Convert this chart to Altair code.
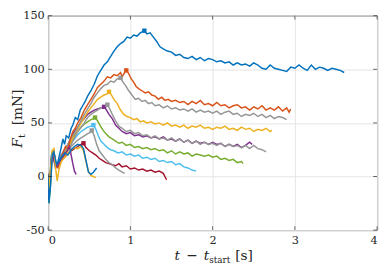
import altair as alt
import pandas as pd

# ---- data: (t, F) pairs ----
blue_long = [(0,2),(0.01,-22),(0.02,-5),(0.04,20),(0.06,24),(0.08,12),(0.1,10),(0.12,14),(0.15,24),(0.18,35),(0.2,30),(0.22,38),(0.25,36),(0.28,45),(0.3,48),(0.33,55),(0.36,53),(0.39,62),(0.42,66),(0.45,70),(0.48,75),(0.52,80),(0.56,86),(0.6,94),(0.64,99),(0.68,104),(0.72,107),(0.76,112),(0.8,117),(0.84,121),(0.88,124),(0.92,126),(0.96,130),(1.0,129),(1.04,132),(1.08,131),(1.12,134),(1.17,136),(1.2,133),(1.24,134),(1.28,130),(1.32,126),(1.36,121),(1.4,119),(1.45,117),(1.5,116),(1.55,113),(1.6,114),(1.65,111),(1.7,110),(1.75,112),(1.8,109),(1.85,111),(1.9,108),(1.95,110),(2.0,109),(2.05,107),(2.1,108),(2.15,106),(2.2,107),(2.25,104),(2.3,106),(2.35,104),(2.4,105),(2.45,103),(2.5,106),(2.55,104),(2.6,101),(2.65,100),(2.7,104),(2.75,101),(2.8,100),(2.85,99),(2.9,98),(2.95,102),(3.0,101),(3.05,104),(3.1,101),(3.15,99),(3.2,104),(3.25,100),(3.3,102),(3.35,101),(3.4,99),(3.45,101),(3.5,100),(3.55,99),(3.6,97)]
orange = [(0,3),(0.01,-18),(0.03,2),(0.05,22),(0.07,23),(0.09,12),(0.12,8),(0.15,16),(0.18,22),(0.21,28),(0.24,26),(0.27,35),(0.3,42),(0.33,45),(0.36,50),(0.4,55),(0.44,62),(0.48,67),(0.52,72),(0.56,77),(0.6,83),(0.64,86),(0.68,89),(0.72,93),(0.76,92),(0.8,95),(0.84,94),(0.88,97),(0.9,93),(0.93,97),(0.95,99),(0.98,96),(1.01,91),(1.04,88),(1.07,84),(1.1,82),(1.14,80),(1.18,78),(1.22,79),(1.26,76),(1.3,75),(1.34,72),(1.38,74),(1.42,71),(1.46,72),(1.5,70),(1.55,71),(1.6,69),(1.65,70),(1.7,67),(1.75,70),(1.8,68),(1.85,71),(1.9,67),(1.95,68),(2.0,66),(2.05,69),(2.1,66),(2.15,67),(2.2,64),(2.25,66),(2.3,67),(2.35,64),(2.4,65),(2.45,62),(2.5,65),(2.55,63),(2.6,66),(2.65,62),(2.7,64),(2.75,62),(2.8,65),(2.85,61),(2.9,64),(2.93,60),(2.95,63)]
grey_high = [(0,0),(0.01,-20),(0.03,0),(0.05,21),(0.07,22),(0.1,10),(0.13,12),(0.16,20),(0.2,24),(0.24,30),(0.28,36),(0.32,40),(0.36,46),(0.4,52),(0.44,58),(0.48,63),(0.52,68),(0.56,74),(0.6,78),(0.64,82),(0.68,85),(0.72,86),(0.76,89),(0.8,88),(0.84,91),(0.88,92),(0.91,88),(0.94,85),(0.98,80),(1.02,76),(1.06,72),(1.1,73),(1.14,70),(1.18,71),(1.22,68),(1.26,69),(1.3,66),(1.35,67),(1.4,64),(1.45,66),(1.5,63),(1.55,64),(1.6,62),(1.65,63),(1.7,61),(1.75,63),(1.8,60),(1.85,62),(1.9,60),(1.95,61),(2.0,59),(2.05,61),(2.1,58),(2.15,60),(2.2,61),(2.25,58),(2.3,59),(2.35,56),(2.4,58),(2.45,57),(2.5,59),(2.55,56),(2.6,58),(2.65,55),(2.7,57),(2.75,54),(2.8,56),(2.85,55),(2.9,53)]
yellow = [(0,2),(0.01,-15),(0.03,5),(0.05,24),(0.07,25),(0.09,10),(0.12,9),(0.16,14),(0.2,20),(0.24,26),(0.28,33),(0.32,40),(0.36,44),(0.4,50),(0.44,55),(0.48,60),(0.52,64),(0.56,68),(0.6,72),(0.64,74),(0.68,76),(0.72,77),(0.74,79),(0.77,76),(0.8,72),(0.84,68),(0.88,62),(0.92,58),(0.96,56),(1.0,55),(1.04,53),(1.08,54),(1.12,51),(1.16,52),(1.2,50),(1.25,51),(1.3,49),(1.35,50),(1.4,48),(1.45,50),(1.5,47),(1.55,48),(1.6,46),(1.65,48),(1.7,45),(1.75,47),(1.8,46),(1.85,48),(1.9,45),(1.95,46),(2.0,44),(2.05,46),(2.1,45),(2.15,47),(2.2,44),(2.25,45),(2.3,43),(2.35,46),(2.4,44),(2.45,45),(2.5,42),(2.55,44),(2.6,43),(2.65,45),(2.7,42),(2.72,43)]
grey_mid = [(0,0),(0.01,-18),(0.04,18),(0.06,22),(0.09,12),(0.12,10),(0.16,18),(0.2,22),(0.24,26),(0.28,30),(0.32,36),(0.36,42),(0.4,46),(0.44,50),(0.48,55),(0.52,58),(0.56,60),(0.6,62),(0.64,64),(0.68,65),(0.72,67),(0.75,63),(0.78,58),(0.82,52),(0.86,47),(0.9,45),(0.95,42),(1.0,43),(1.05,40),(1.1,41),(1.15,38),(1.2,39),(1.25,36),(1.3,38),(1.35,35),(1.4,36),(1.45,34),(1.5,36),(1.55,33),(1.6,35),(1.65,32),(1.7,34),(1.75,31),(1.8,33),(1.85,30),(1.9,32),(1.95,30),(2.0,31),(2.05,29),(2.1,31),(2.15,28),(2.2,30),(2.25,28),(2.3,29),(2.35,27),(2.4,29),(2.45,26),(2.5,29),(2.55,26),(2.6,25),(2.65,23)]
purple = [(0,1),(0.01,-20),(0.04,15),(0.06,20),(0.09,10),(0.12,12),(0.16,20),(0.2,25),(0.24,30),(0.28,36),(0.32,42),(0.36,46),(0.4,51),(0.44,54),(0.48,58),(0.52,60),(0.56,62),(0.6,63),(0.64,64),(0.68,65),(0.71,62),(0.74,58),(0.78,54),(0.82,48),(0.86,45),(0.9,42),(0.95,40),(1.0,41),(1.05,38),(1.1,39),(1.15,37),(1.2,38),(1.25,36),(1.3,37),(1.35,35),(1.4,37),(1.45,34),(1.5,35),(1.55,33),(1.6,35),(1.65,32),(1.7,34),(1.75,31),(1.8,33),(1.85,31),(1.9,32),(1.95,30),(2.0,32),(2.05,30),(2.1,31),(2.15,28),(2.2,30),(2.25,28),(2.3,30),(2.35,27),(2.4,29),(2.45,32),(2.48,30)]
green = [(0,0),(0.01,-25),(0.03,-5),(0.05,20),(0.07,22),(0.1,10),(0.13,13),(0.16,18),(0.2,22),(0.24,27),(0.28,32),(0.32,38),(0.36,42),(0.4,46),(0.44,49),(0.48,51),(0.52,53),(0.55,54),(0.57,55),(0.6,52),(0.63,48),(0.66,44),(0.7,40),(0.74,37),(0.78,35),(0.82,33),(0.86,31),(0.9,32),(0.95,29),(1.0,30),(1.05,27),(1.1,28),(1.15,26),(1.2,27),(1.25,25),(1.3,26),(1.35,24),(1.4,25),(1.45,22),(1.5,24),(1.55,21),(1.6,23),(1.65,21),(1.7,22),(1.75,19),(1.8,21),(1.85,20),(1.9,19),(1.95,20),(2.0,18),(2.05,19),(2.1,16),(2.15,17),(2.2,15),(2.25,16),(2.3,13),(2.35,14),(2.37,12)]
light_blue = [(0,0),(0.01,-20),(0.04,15),(0.06,21),(0.09,11),(0.12,12),(0.16,18),(0.2,22),(0.24,26),(0.28,31),(0.32,35),(0.36,39),(0.4,42),(0.44,44),(0.48,46),(0.52,47),(0.55,48),(0.58,44),(0.61,38),(0.64,33),(0.68,30),(0.72,27),(0.76,25),(0.8,24),(0.85,22),(0.9,23),(0.95,20),(1.0,21),(1.05,19),(1.1,20),(1.15,17),(1.2,18),(1.25,16),(1.3,17),(1.35,14),(1.4,15),(1.45,13),(1.5,14),(1.55,11),(1.6,12),(1.65,9),(1.7,8),(1.75,6),(1.8,5)]
grey_low = [(0,0),(0.01,-18),(0.04,16),(0.06,21),(0.09,11),(0.12,12),(0.16,17),(0.2,20),(0.24,24),(0.28,28),(0.32,31),(0.36,34),(0.4,36),(0.44,38),(0.48,40),(0.51,41),(0.53,43),(0.56,38),(0.59,30),(0.62,24),(0.66,20),(0.7,16),(0.74,13),(0.78,11),(0.82,8),(0.86,6),(0.9,4),(0.93,3)]
dark_red = [(0,0),(0.01,-15),(0.04,14),(0.06,19),(0.09,10),(0.12,11),(0.16,15),(0.2,18),(0.24,21),(0.28,24),(0.32,26),(0.36,28),(0.4,30),(0.43,31),(0.46,27),(0.5,24),(0.54,22),(0.58,20),(0.62,17),(0.66,15),(0.7,13),(0.74,12),(0.78,11),(0.82,10),(0.86,12),(0.9,9),(0.95,10),(1.0,7),(1.05,8),(1.1,6),(1.15,7),(1.2,5),(1.25,6),(1.3,4),(1.35,5),(1.4,3),(1.44,-3)]
purple_short = [(0,0),(0.01,-22),(0.04,16),(0.06,20),(0.09,8),(0.12,11),(0.16,16),(0.2,20),(0.23,24),(0.26,28),(0.28,20),(0.3,12),(0.32,5),(0.34,2)]
yellow_short = [(0,0),(0.01,-12),(0.03,8),(0.05,24),(0.07,26),(0.09,8),(0.11,-4),(0.13,6),(0.16,14),(0.2,18),(0.24,22),(0.28,25),(0.32,27),(0.36,26),(0.4,28),(0.43,24),(0.46,14),(0.49,5),(0.52,1),(0.55,0),(0.58,-1)]
blue_short = [(0,0),(0.01,-25),(0.03,-8),(0.05,20),(0.07,23),(0.1,12),(0.13,14),(0.16,18),(0.2,22),(0.24,20),(0.28,25),(0.32,28),(0.36,30),(0.4,29),(0.43,26),(0.46,15),(0.49,4),(0.52,2),(0.55,4),(0.59,8)]

series_names = ["dark_red", "grey_low", "light_blue", "green", "purple", "grey_mid",
                "yellow", "grey_high", "orange", "blue_long", "purple_short",
                "yellow_short", "blue_short"]
series_data = [dark_red, grey_low, light_blue, green, purple, grey_mid,
               yellow, grey_high, orange, blue_long, purple_short,
               yellow_short, blue_short]
series_colors = ["#A2142F", "#969696", "#4DBEEE", "#77AC30", "#7E2F8E", "#969696",
                 "#EDB120", "#969696", "#D95319", "#0072BD", "#7E2F8E",
                 "#EDB120", "#0072BD"]

x_ticks = [0, 1, 2, 3, 4]
y_ticks = [-50, 0, 50, 100, 150]

rows = []
for name, pts in zip(series_names, series_data):
    for i, (t, f) in enumerate(pts):
        rows.append({"series": name, "i": i, "t": t, "F": f})
df = pd.DataFrame(rows)

peaks = []
for name, pts in zip(series_names, series_data):
    if name.endswith("_short"):
        continue
    t, f = max(pts, key=lambda p: p[1])
    peaks.append({"series": name, "t": t, "F": f})
peak_df = pd.DataFrame(peaks)

W, H = 336, 219
FONT = "DejaVu Serif"
INK = "#262626"

color_scale = alt.Scale(domain=series_names, range=series_colors)
xs = alt.Scale(domain=[0, 4], nice=False)
ys = alt.Scale(domain=[-50, 150], nice=False)

lines = alt.Chart(df).mark_line(strokeWidth=1.5, clip=True).encode(
    x=alt.X("t:Q", scale=xs,
            axis=alt.Axis(values=x_ticks, title=None, grid=True, labelPadding=5,
                          labelExpr="'' + datum.value")),
    y=alt.Y("F:Q", scale=ys,
            axis=alt.Axis(values=y_ticks, title=None, grid=True, labelPadding=4,
                          labelExpr="'' + datum.value")),
    color=alt.Color("series:N", scale=color_scale, legend=None),
    detail="series:N",
    order=alt.Order("i:Q"),
)

markers = alt.Chart(peak_df).mark_point(shape="square", filled=True, size=20, opacity=1).encode(
    x=alt.X("t:Q", scale=xs), y=alt.Y("F:Q", scale=ys),
    color=alt.Color("series:N", scale=color_scale, legend=None),
)

xt = pd.DataFrame({"v": x_ticks})
yt = pd.DataFrame({"v": y_ticks})
tick_bot = alt.Chart(xt).mark_tick(color=INK, size=4, thickness=1).encode(
    x=alt.X("v:Q", scale=xs), y=alt.value(H - 2))
tick_top = alt.Chart(xt).mark_tick(color=INK, size=4, thickness=1).encode(
    x=alt.X("v:Q", scale=xs), y=alt.value(2))
tick_left = alt.Chart(yt).mark_tick(color=INK, size=4, thickness=1).encode(
    y=alt.Y("v:Q", scale=ys), x=alt.value(2))
tick_right = alt.Chart(yt).mark_tick(color=INK, size=4, thickness=1).encode(
    y=alt.Y("v:Q", scale=ys), x=alt.value(W - 2))

one = pd.DataFrame({"a": [0]})

def label(text, x, y, size=14, style="normal", angle=0, align="left"):
    return alt.Chart(one).mark_text(
        text=text, font=FONT, fontSize=size, fontStyle=style, color=INK,
        align=align, baseline="alphabetic", angle=angle,
    ).encode(x=alt.value(x), y=alt.value(y))

TB = 250
title_parts = [
    label("t", 129, TB, style="italic"),
    label("\u2212", 147, TB, align="center"),
    label("t", 159, TB, style="italic"),
    label("start", 164.5, TB + 3, size=9),
    label("[s]", 191, TB),
    label("F", -27, 135, style="italic", angle=270),
    label("t", -24, 125, size=10, angle=270),
    label("[mN]", -27, 112, angle=270),
]

chart = alt.layer(
    lines, markers, tick_bot, tick_top, tick_left, tick_right, *title_parts
).properties(
    width=W, height=H,
    autosize=alt.AutoSizeParams(type="none"),
    padding={"left": 41, "top": 5, "right": 5, "bottom": 44},
).configure_view(
    stroke=INK, strokeWidth=1,
).configure_axis(
    domain=False, ticks=False, gridColor="#e3e3e3", gridWidth=1,
    labelFont=FONT, labelFontSize=11.5, labelColor=INK,
)

chart.save("out.html", embed_options={"renderer": "svg", "actions": False})
